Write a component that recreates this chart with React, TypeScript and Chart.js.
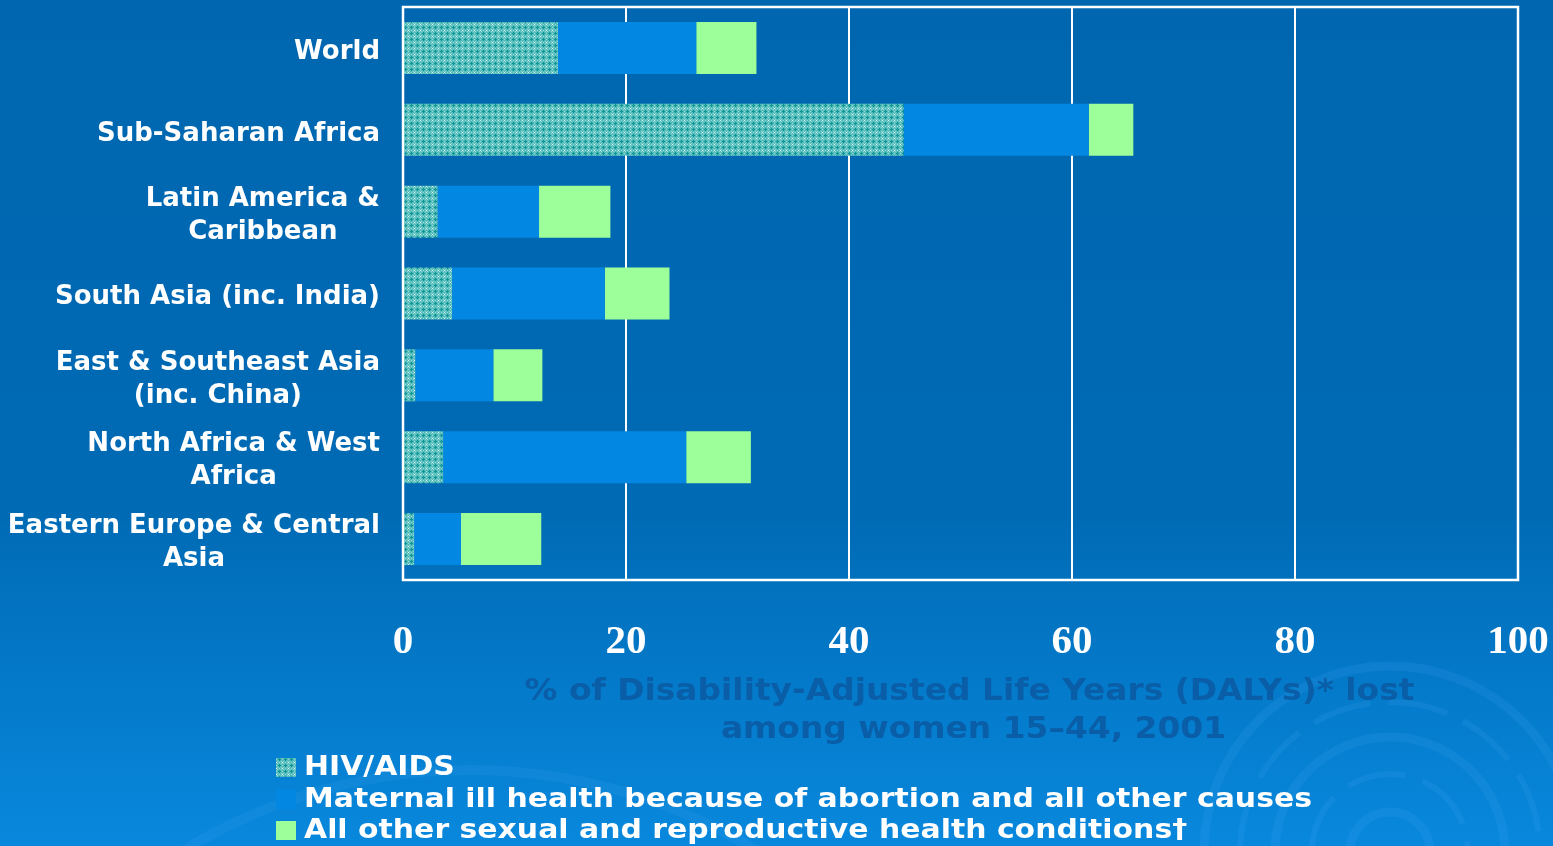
import React, { useEffect, useRef } from "react";
import { Chart, registerables } from "chart.js";

Chart.register(...registerables);

// ---- data ----
const regions: string[][] = [
  ["World"],
  ["Sub-Saharan Africa"],
  ["Latin America &", "Caribbean"],
  ["South Asia (inc. India)"],
  ["East & Southeast Asia", "(inc. China)"],
  ["North Africa & West", "Africa"],
  ["Eastern Europe & Central", "Asia"],
];
const hivAids = [13.9, 44.9, 3.1, 4.4, 1.1, 3.6, 1.0];
const maternal = [12.4, 16.6, 9.1, 13.7, 7.0, 21.8, 4.2];
const otherConditions = [5.4, 4.0, 6.4, 5.8, 4.4, 5.8, 7.2];
const xTickValues = [0, 20, 40, 60, 80, 100];
const seriesNames = [
  "HIV/AIDS",
  "Maternal ill health because of abortion and all other causes",
  "All other sexual and reproductive health conditions\u2020",
];
const axisTitle = [
  "% of Disability-Adjusted Life Years (DALYs)* lost",
  "among women 15\u201344, 2001",
];

const MATERNAL_COLOR = "#0287e3";
const OTHER_COLOR = "#9cff99";

function makeHatch(): CanvasPattern | string {
  const c = document.createElement("canvas");
  c.width = 6;
  c.height = 6;
  const g = c.getContext("2d");
  if (!g) return "#2aa3a3";
  g.fillStyle = "#55bcbc";
  g.fillRect(0, 0, 6, 6);
  const px = (x: number, y: number, col: string) => {
    g.fillStyle = col;
    g.fillRect(x, y, 1, 1);
  };
  const dark = "#0e9696";
  const light = "#95d9d9";
  const white = "#e0f4f4";
  px(3, 2, dark);
  px(2, 3, dark);
  px(3, 3, dark);
  px(4, 3, dark);
  px(3, 4, dark);
  px(0, 0, white);
  px(1, 1, light);
  px(5, 5, light);
  px(5, 1, light);
  px(1, 5, light);
  px(0, 3, light);
  px(3, 0, light);
  const p = g.createPattern(c, "repeat");
  return p || "#2aa3a3";
}

const SANS = '"DejaVu Sans", Verdana, sans-serif';

export default function App() {
  const ref = useRef<HTMLCanvasElement>(null);

  useEffect(() => {
    const canvas = ref.current;
    if (!canvas) return;
    const hatch = makeHatch();

    const bgPlugin = {
      id: "bgPlugin",
      beforeDraw(chart: any) {
        const { ctx, width, height } = chart;
        ctx.save();
        const g = ctx.createLinearGradient(0, 0, 0, height);
        g.addColorStop(0, "#0066b0");
        g.addColorStop(0.6, "#006ab4");
        g.addColorStop(1, "#0888dd");
        ctx.fillStyle = g;
        ctx.fillRect(0, 0, width, height);
        // faint decorative rings (bottom right)
        ctx.strokeStyle = "rgba(80,170,250,0.14)";
        const cx = 1390;
        const cy = 852;
        const radii = [40, 78, 115, 150, 186];
        radii.forEach((r, i) => {
          ctx.lineWidth = i % 2 === 0 ? 9 : 6;
          ctx.setLineDash(i % 2 === 0 ? [] : [60, 18]);
          ctx.beginPath();
          ctx.arc(cx, cy, r, Math.PI, 2 * Math.PI);
          ctx.stroke();
        });
        ctx.setLineDash([]);
        // faint wave behind legend
        ctx.lineWidth = 10;
        ctx.strokeStyle = "rgba(80,170,250,0.12)";
        ctx.beginPath();
        ctx.arc(470, 1320, 550, Math.PI * 1.3, Math.PI * 1.72);
        ctx.stroke();
        ctx.restore();
      },
    };

    const overlayPlugin = {
      id: "overlayPlugin",
      afterDatasetsDraw(chart: any) {
        const { ctx, chartArea } = chart;
        ctx.save();
        ctx.strokeStyle = "#ffffff";
        ctx.lineWidth = 2.5;
        ctx.strokeRect(
          chartArea.left,
          chartArea.top,
          chartArea.right - chartArea.left,
          chartArea.bottom - chartArea.top
        );
        ctx.restore();
      },
      afterDraw(chart: any) {
        const { ctx } = chart;
        const yScale = chart.scales.y;
        const xScale = chart.scales.x;
        ctx.save();
        // category labels
        ctx.fillStyle = "#ffffff";
        ctx.font = `bold 26px ${SANS}`;
        ctx.textBaseline = "middle";
        ctx.textAlign = "center";
        const lineH = 33;
        const rightEdge = chart.chartArea.left - 23;
        regions.forEach((lines, i) => {
          const yc = yScale.getPixelForValue(i);
          const w = Math.max(...lines.map((l) => ctx.measureText(l).width));
          const cx = rightEdge - w / 2;
          const y0 = yc - ((lines.length - 1) * lineH) / 2 + 4;
          lines.forEach((l, k) => ctx.fillText(l, cx, y0 + k * lineH));
        });

        // axis title (dark blue, low contrast)
        ctx.font = `bold 30px ${SANS}`;
        ctx.fillStyle = "#0a5ea7";
        const tw = ctx.measureText(axisTitle[0]).width;
        const tsx = 890 / tw;
        const tcx = (xScale.left + xScale.right) / 2 + 9;
        axisTitle.forEach((t, k) => {
          ctx.save();
          ctx.translate(tcx + k * 4, 692 + k * 38);
          ctx.scale(tsx, 1);
          ctx.fillText(t, 0, 0);
          ctx.restore();
        });

        // legend
        ctx.font = `bold 27px ${SANS}`;
        ctx.textAlign = "left";
        ctx.fillStyle = "#ffffff";
        const lw = ctx.measureText(seriesNames[1]).width;
        const lsx = 1008 / lw;
        const rowsY = [767, 799, 830];
        const swatches: (CanvasPattern | string)[] = [hatch, MATERNAL_COLOR, OTHER_COLOR];
        seriesNames.forEach((name, k) => {
          const y = rowsY[k];
          ctx.fillStyle = swatches[k] as any;
          ctx.fillRect(276, y - 9, 20, 19);
          ctx.fillStyle = "#ffffff";
          ctx.save();
          ctx.translate(304, y + 1);
          ctx.scale(lsx, 1);
          ctx.fillText(name, 0, 0);
          ctx.restore();
        });
        ctx.restore();
      },
    };

    const chart = new Chart(canvas, {
      type: "bar",
      data: {
        labels: regions.map((r) => r.join(" ")),
        datasets: [
          { label: seriesNames[0], data: hivAids, backgroundColor: hatch as any, borderWidth: 0 },
          { label: seriesNames[1], data: maternal, backgroundColor: MATERNAL_COLOR, borderWidth: 0 },
          { label: seriesNames[2], data: otherConditions, backgroundColor: OTHER_COLOR, borderWidth: 0 },
        ],
      },
      options: {
        animation: false,
        responsive: false,
        indexAxis: "y",
        layout: { padding: { top: 7, right: 35, left: 0, bottom: 0 } },
        datasets: { bar: { barPercentage: 0.635, categoryPercentage: 1 } },
        plugins: {
          legend: { display: false },
          tooltip: { enabled: false },
          title: { display: false },
        },
        scales: {
          x: {
            stacked: true,
            min: 0,
            max: 100,
            afterBuildTicks: (s: any) => {
              s.ticks = xTickValues.map((v) => ({ value: v }));
            },
            grid: { color: "#ffffff", lineWidth: 2, drawTicks: false },
            border: { display: false },
            ticks: {
              color: "#ffffff",
              padding: 38,
              maxRotation: 0,
              font: { family: '"Liberation Serif", "Times New Roman", serif', size: 41, weight: "bold" },
            },
            afterFit: (s: any) => {
              s.height = 266;
              s.paddingLeft = 0;
              s.paddingRight = 0;
            },
          },
          y: {
            stacked: true,
            grid: { display: false },
            border: { display: false },
            ticks: { display: false },
            afterFit: (s: any) => {
              s.width = 403;
            },
          },
        },
      },
      plugins: [bgPlugin, overlayPlugin],
    } as any);

    return () => chart.destroy();
  }, []);

  return (
    <div style={{ position: "fixed", left: 0, top: 0, width: 1553, height: 846 }}>
      <canvas ref={ref} width={1553} height={846} style={{ display: "block" }} />
    </div>
  );
}
